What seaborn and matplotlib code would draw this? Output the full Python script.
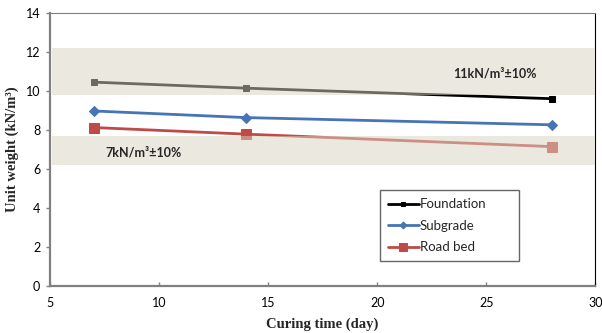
import matplotlib
matplotlib.use("Agg")
import matplotlib.pyplot as plt
import seaborn as sns
import pandas as pd

days = [7, 14, 28]
foundation = [10.45, 10.14, 9.60]
subgrade = [8.97, 8.63, 8.26]
road_bed = [8.12, 7.78, 7.14]
series_names = ["Foundation", "Subgrade", "Road bed"]
band_upper = (9.8, 12.2)
band_lower = (6.2, 7.7)
band_labels = ["11kN/m³±10%", "7kN/m³±10%"]
x_ticks = [5, 10, 15, 20, 25, 30]
y_ticks = [0, 2, 4, 6, 8, 10, 12, 14]

df = pd.DataFrame({
    "day": days * 3,
    "value": foundation + subgrade + road_bed,
    "series": [s for s in series_names for _ in days],
})

sns.set_theme(style="white")
plt.rcParams['font.family'] = ['Lato', 'DejaVu Sans']

fig = plt.figure(figsize=(6.02, 3.33), dpi=100)
ax = fig.add_axes([0.083, 0.142, 0.906, 0.819])

colors = {"Foundation": "#000000", "Subgrade": "#4674B4", "Road bed": "#BE4B48"}
markers = {"Foundation": "s", "Subgrade": "D", "Road bed": "s"}
msizes = {"Foundation": 5, "Subgrade": 5, "Road bed": 6.5}
leg_msizes = {"Foundation": 3.5, "Subgrade": 3.5, "Road bed": 5.5}

for name in series_names:
    sub = df[df.series == name]
    sns.lineplot(data=sub, x="day", y="value", ax=ax, color=colors[name],
                 marker=markers[name], markersize=msizes[name],
                 markeredgecolor=colors[name], linewidth=2.0, label=name,
                 zorder=2)

for lo, hi in (band_upper, band_lower):
    ax.axhspan(lo, hi, xmin=0.004, xmax=1, facecolor="#D9D3C1", alpha=0.5,
               edgecolor="none", zorder=3)

ax.text(25.4, 10.9, band_labels[0], ha="center", va="center", fontsize=9,
        fontweight="bold", zorder=4)
ax.text(9.3, 6.85, band_labels[1], ha="center", va="center", fontsize=9,
        fontweight="bold", zorder=4)

ax.set_xlim(5, 30)
ax.set_ylim(0, 14)
ax.set_xticks(x_ticks)
ax.set_yticks(y_ticks)
ax.tick_params(axis="x", direction="in", length=3, width=1, colors="#808080",
               labelcolor="black", labelsize=9, pad=8)
ax.tick_params(axis="y", direction="out", length=3, width=1, colors="#808080",
               labelcolor="black", labelsize=9, pad=4)
ax.xaxis.set_ticks_position("bottom")
ax.yaxis.set_ticks_position("left")

for s in ("left", "bottom"):
    ax.spines[s].set_color("#808080")
    ax.spines[s].set_linewidth(1.6)
ax.spines["top"].set_color("#808080")
ax.spines["top"].set_linewidth(0.8)
ax.spines["right"].set_color("#000000")
ax.spines["right"].set_linewidth(0.8)

ax.set_xlabel("Curing time (day)", fontsize=10.5, fontweight="bold",
              family="Liberation Serif", labelpad=6)
ax.set_ylabel("Unit weight (kN/m³)", fontsize=10.5, fontweight="bold",
              family="Liberation Serif", labelpad=5)

leg = ax.legend(loc="upper left", bbox_to_anchor=(0.605, 0.0, 0.255, 0.35),
                mode="expand", borderaxespad=0, frameon=True, fancybox=False,
                fontsize=9.5, handlelength=2.35, handletextpad=0.05,
                labelspacing=0.72, borderpad=0.6, edgecolor="#404040")
leg.get_frame().set_linewidth(1.0)
leg.set_zorder(5)
for h, name in zip(leg.legend_handles, series_names):
    h.set_markersize(leg_msizes[name])

fig.savefig("out.png", dpi=100)
